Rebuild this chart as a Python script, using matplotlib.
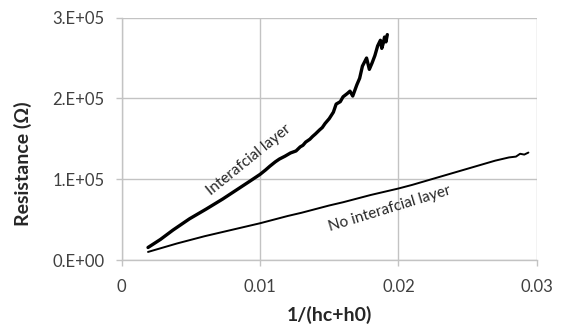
import matplotlib
matplotlib.use("Agg")
import matplotlib.pyplot as plt

# Resistance vs 1/(hc+h0) for the two film stacks
x_interfacial = [0.0019, 0.0028, 0.0037, 0.0049, 0.0061, 0.0073, 0.0085, 0.0093,
                 0.0100, 0.0104, 0.0107, 0.0111, 0.0114, 0.0118, 0.0122, 0.0126,
                 0.0129, 0.0131, 0.0133, 0.0136, 0.0138, 0.0140, 0.0143, 0.0145,
                 0.0147, 0.0150, 0.0153, 0.0155, 0.0158, 0.0160, 0.0163, 0.0165,
                 0.0167, 0.0170, 0.0172, 0.0174, 0.0177, 0.0179, 0.0181, 0.0183,
                 0.0185, 0.0187, 0.0188, 0.0189, 0.0190, 0.0191, 0.0192]
y_interfacial = [15500, 25500, 37000, 51000, 63000, 75500, 89000, 98000,
                 106000, 111500, 116000, 121500, 125000, 128500, 132500, 135000,
                 140000, 142000, 146000, 149500, 153000, 156000, 161000, 164000,
                 169000, 175000, 183000, 193000, 196000, 202000, 206000, 209000,
                 203000, 217000, 225000, 240000, 250000, 236000, 244000, 253000,
                 265000, 272000, 262000, 268000, 276000, 270000, 279000]

x_no_interfacial = [0.0019, 0.0030, 0.0040, 0.0050, 0.0060, 0.0070, 0.0080, 0.0090,
                    0.0100, 0.0110, 0.0120, 0.0130, 0.0140, 0.0150, 0.0160, 0.0170,
                    0.0180, 0.0190, 0.0200, 0.0210, 0.0220, 0.0230, 0.0240, 0.0250,
                    0.0260, 0.0270, 0.0280, 0.0285, 0.0288, 0.0291, 0.0294]
y_no_interfacial = [10000, 15500, 20500, 25000, 29500, 33500, 37500, 41500,
                    45500, 50000, 54500, 58500, 63000, 67500, 71500, 76000,
                    80500, 84500, 88500, 93000, 98000, 103000, 108000, 113000,
                    118000, 123000, 127000, 128000, 131500, 130500, 133000]

x_ticks = [0, 0.01, 0.02, 0.03]
x_tick_labels = ["0", "0.01", "0.02", "0.03"]
y_ticks = [0, 100000, 200000, 300000]
y_tick_labels = ["0.E+00", "1.E+05", "2.E+05", "3.E+05"]

plt.rcParams["font.family"] = ["Lato", "DejaVu Sans"]

fig = plt.figure(figsize=(5.61, 3.24), dpi=100)
ax = fig.add_axes([0.217, 0.1975, 0.7397, 0.748])

grid_color = "#c3c3c3"
text_color = "#404040"

ax.plot(x_interfacial, y_interfacial, color="black", lw=2.4,
        solid_joinstyle="round", solid_capstyle="round")
ax.plot(x_no_interfacial, y_no_interfacial, color="black", lw=1.4,
        solid_joinstyle="round", solid_capstyle="round")

ax.set_xlim(0, 0.03)
ax.set_ylim(0, 300000)
ax.set_xticks(x_ticks)
ax.set_xticklabels(x_tick_labels)
ax.set_yticks(y_ticks)
ax.set_yticklabels(y_tick_labels)

ax.grid(True, color=grid_color, lw=1.0)
ax.set_axisbelow(True)
for side in ("top", "right"):
    ax.spines[side].set_visible(False)
for side in ("left", "bottom"):
    ax.spines[side].set_color(grid_color)
    ax.spines[side].set_linewidth(1.0)

ax.tick_params(axis="both", colors=grid_color, labelcolor=text_color,
               labelsize=12, length=4.5, width=1.0, direction="out")
ax.tick_params(axis="x", pad=9)
ax.tick_params(axis="y", pad=8)

ax.set_xlabel("1/(hc+h0)", fontsize=14, fontweight="bold", color="#262626", labelpad=8)
fig.text(0.041, 1 - 163.5 / 324, "Resistance (\u03a9)", rotation=90, fontsize=14,
         fontweight="bold", color="#262626", ha="center", va="center")

ax.text(0.0092, 124000, "Interafcial layer", rotation=39, fontsize=11,
        color="#262626", ha="center", va="center")
ax.text(0.0194, 63000, "No interafcial layer", rotation=17, fontsize=11,
        color="#262626", ha="center", va="center")

fig.savefig("out.png", dpi=100)
